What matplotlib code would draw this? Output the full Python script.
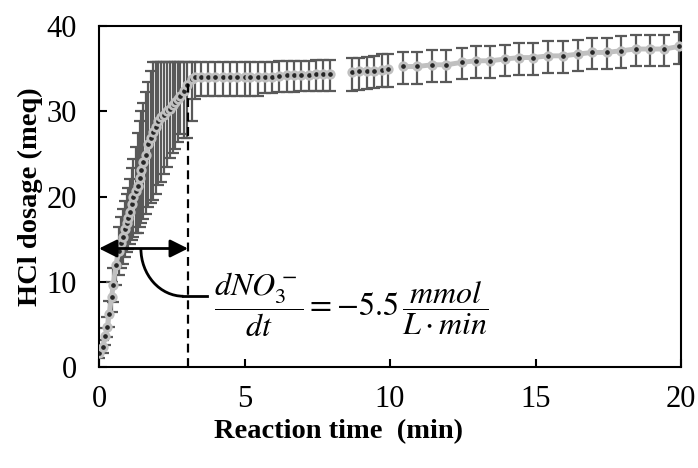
import matplotlib
matplotlib.use("Agg")
import matplotlib.pyplot as plt
from matplotlib.patches import Arc
import numpy as np

# HCl dosage during the fast titration phase (0-3.2 min)
t_rise = [0.01, 0.13, 0.21, 0.29, 0.35, 0.43, 0.49, 0.58, 0.69, 0.77, 0.83, 0.89, 0.95,
          1.00, 1.06, 1.12, 1.18, 1.26, 1.35, 1.41, 1.46, 1.52, 1.61, 1.69, 1.78, 1.86,
          1.95, 2.03, 2.12, 2.23, 2.32, 2.44, 2.53, 2.62, 2.70, 2.80, 2.92, 3.03, 3.18]
y_rise = [1.6, 2.4, 3.6, 4.7, 6.2, 8.2, 9.6, 12.0, 13.6, 14.6, 15.3, 16.2, 16.9,
          17.5, 18.2, 19.1, 19.9, 20.7, 21.2, 22.2, 23.1, 24.0, 24.9, 26.1, 26.9, 27.6,
          28.2, 28.9, 29.3, 29.6, 30.0, 30.3, 30.7, 31.1, 31.4, 31.8, 32.4, 33.1, 33.8]
lo_rise = [0.6, 0.8, 1.0, 1.2, 1.5, 1.8, 2.0, 2.4, 2.8, 3.0, 3.2, 3.3, 3.4,
           3.6, 3.8, 4.2, 4.6, 5.0, 5.5, 5.8, 6.2, 6.6, 7.0, 7.3, 7.7, 8.0,
           7.9, 7.6, 7.6, 7.0, 6.5, 5.8, 5.6, 5.5, 5.0, 4.5, 5.5, 6.2, 4.9]
up_rise = [0.6, 0.8, 1.0, 1.2, 1.5, 1.8, 2.0, 2.4, 2.8, 3.0, 3.2, 3.3, 3.4,
           3.5, 3.8, 4.3, 4.5, 5.1, 6.3, 6.7, 6.9, 7.0, 7.3, 7.3, 7.8, 8.2,
           7.6, 6.9, 6.5, 6.2, 5.8, 5.5, 5.1, 4.7, 4.4, 4.0, 3.4, 2.7, 2.0]

# plateau after the end point
t_flat = [3.30, 3.50, 3.75, 4.00, 4.25, 4.50, 4.75, 5.00, 5.20, 5.45,
          5.70, 5.95, 6.20, 6.45, 6.70, 6.95, 7.20, 7.45, 7.70, 7.95]
y_flat = [34.0, 34.0, 34.0, 34.0, 34.0, 34.0, 34.0, 34.0, 34.0, 34.0,
          34.0, 34.0, 34.1, 34.2, 34.2, 34.3, 34.3, 34.4, 34.4, 34.4]
lo_flat = [2.6, 2.2, 2.2, 2.2, 2.2, 2.2, 2.2, 2.2, 2.2, 2.2,
           1.9, 1.9, 1.9, 1.9, 1.9, 1.9, 1.9, 2.0, 2.0, 2.0]
up_flat = [1.8, 1.8, 1.8, 1.8, 1.8, 1.8, 1.8, 1.8, 1.8, 1.8,
           1.8, 1.8, 1.8, 1.7, 1.7, 1.6, 1.6, 1.6, 1.6, 1.6]

t_mid = [8.68, 8.94, 9.20, 9.45, 9.71, 9.94]
y_mid = [34.55, 34.75, 34.75, 34.75, 34.8, 35.0]
lo_mid = [2.15, 2.25, 2.15, 2.05, 2.0, 2.1]
up_mid = [1.65, 1.45, 1.65, 1.75, 1.9, 1.7]

t_late = [10.43, 10.93, 11.45, 11.94, 12.46, 12.94, 13.44, 13.95, 14.43, 14.92,
          15.44, 15.95, 16.45, 16.95, 17.44, 17.94, 18.44, 18.93, 19.43, 19.93]
y_late = [35.25, 35.25, 35.45, 35.45, 35.73, 35.92, 35.92, 36.12, 36.3, 36.3,
          36.5, 36.5, 36.7, 36.9, 36.9, 37.1, 37.3, 37.3, 37.3, 37.6]
lo_late = [2.0] * 20
up_late = [1.7] * 20

t_end = 3.06      # end of the fast phase
y_arrow = 13.9

GREY = "#c0c0c0"
DARK = "#262626"
BAR = "#595959"

plt.rcParams["font.family"] = ["Liberation Serif", "DejaVu Serif"]
plt.rcParams["mathtext.fontset"] = "stix"

fig = plt.figure(figsize=(6.98, 4.68), dpi=100)
ax = fig.add_axes([99 / 698, 1 - 367 / 468, 582 / 698, 341 / 468])

segments = [
    (t_rise + t_flat, y_rise + y_flat, lo_rise + lo_flat, up_rise + up_flat),
    (t_mid, y_mid, lo_mid, up_mid),
    (t_late, y_late, lo_late, up_late),
]
for t, y, lo, up in segments:
    ax.errorbar(t, y, yerr=[lo, up], fmt="none", ecolor=BAR, elinewidth=1.6,
                capsize=4.5, capthick=1.6, zorder=2)
    ax.plot(t, y, color=GREY, lw=3.5, solid_capstyle="round", zorder=3)
    ax.plot(t, y, "o", ms=5.4, mfc=DARK, mec=GREY, mew=2.0, zorder=4)

# end point marker and rate annotation
ax.plot([t_end, t_end], [0, 33.2], color="black", lw=1.6, dashes=(4, 2.5), zorder=5)
ax.annotate("", xy=(0, y_arrow), xytext=(t_end, y_arrow),
            arrowprops=dict(arrowstyle="<|-|>", color="black", lw=2,
                            mutation_scale=27, shrinkA=0, shrinkB=0), zorder=6)
ax.add_patch(Arc((2.9, y_arrow), 2 * 1.46, 2 * 5.6, theta1=180, theta2=270,
                 color="black", lw=2, zorder=6))
ax.plot([2.9, 3.7], [y_arrow - 5.6, y_arrow - 5.6], color="black", lw=2, zorder=6)
ax.text(8.66, 7.3,
        r"$\dfrac{dNO_3^-}{dt} = -5.5\,\dfrac{mmol}{L\cdot min}$",
        ha="center", va="center", fontsize=23, zorder=6)

ax.set_xlim(0, 20)
ax.set_ylim(0, 40)
ax.set_xticks([0, 5, 10, 15, 20])
ax.set_yticks([0, 10, 20, 30, 40])
ax.tick_params(direction="in", length=6, width=1.5, labelsize=22, pad=13)
ax.tick_params(axis="y", pad=16)
for s in ax.spines.values():
    s.set_linewidth(1.5)

ax.set_xlabel("Reaction time  (min)", fontsize=20.5, fontweight="bold", va="center")
ax.xaxis.set_label_coords(0.412, -0.19)
ax.set_ylabel("HCl dosage (meq)", fontsize=20.5, fontweight="bold", va="center")
ax.yaxis.set_label_coords(-0.118, 0.5)

fig.savefig("out.png", dpi=100)
